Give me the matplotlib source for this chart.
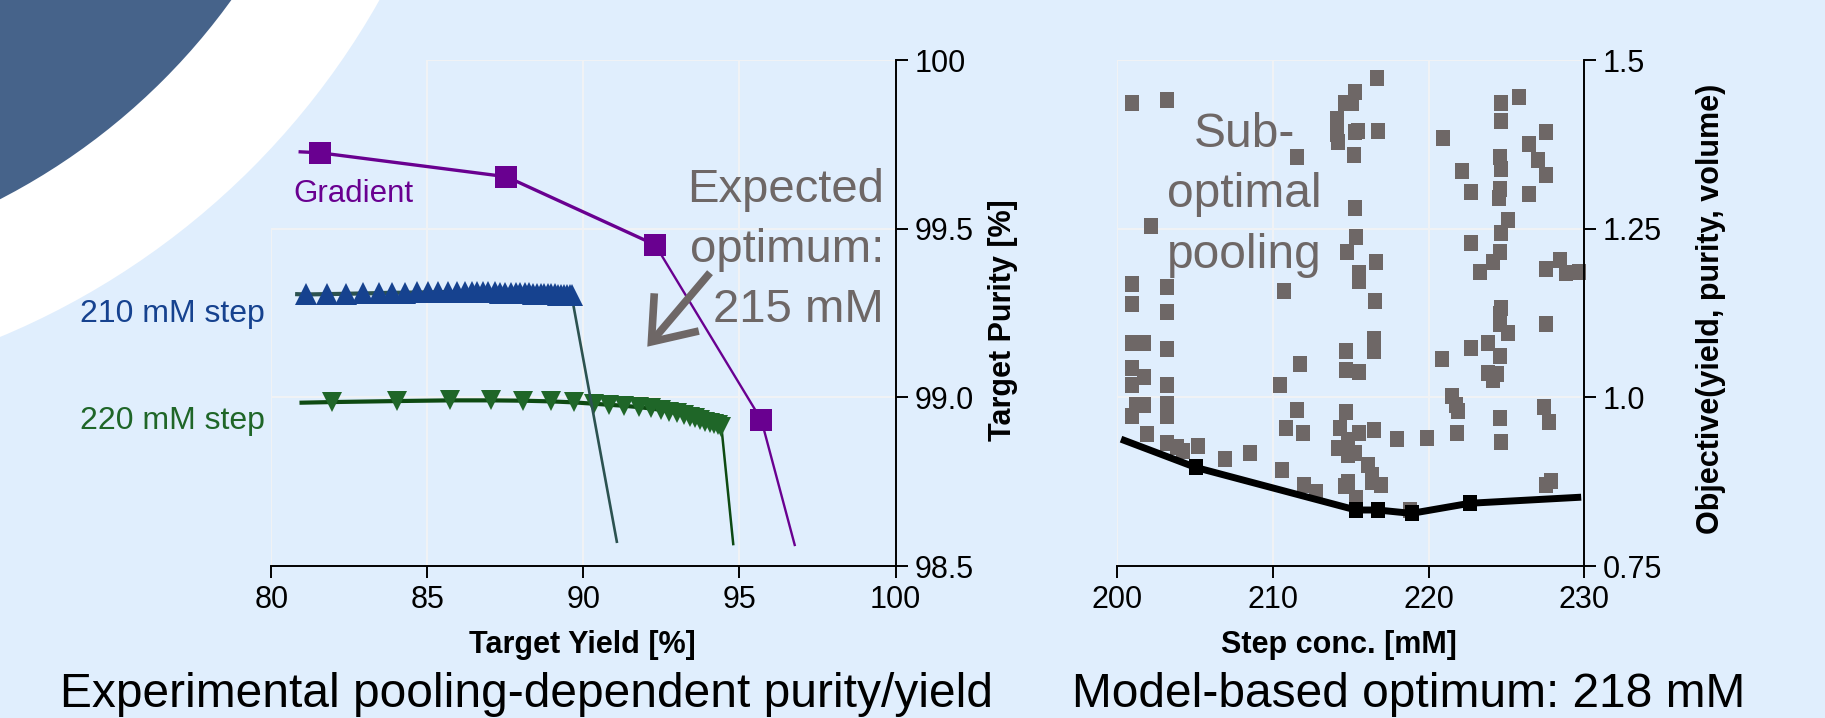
import matplotlib
matplotlib.use("Agg")
import matplotlib.pyplot as plt
from matplotlib.patches import Circle, FancyArrowPatch, ArrowStyle

plt.rcParams['font.family'] = ['Liberation Sans', 'DejaVu Sans']

W, H, DPI = 1825, 718, 100

# ---------------- data: left panel (purity vs yield) ----------------
yield_ticks = [80, 85, 90, 95, 100]
yield_ticklabels = ['80', '85', '90', '95', '100']
purity_ticks = [98.5, 99.0, 99.5, 100.0]
purity_ticklabels = ['98.5', '99.0', '99.5', '100']

gradient_x = [81.55, 87.53, 92.30, 95.70]
gradient_y = [99.725, 99.654, 99.452, 98.933]
gradient_start = (80.87, 99.728)
gradient_end = (96.78, 98.559)

step210_x = [81.12, 81.79, 82.40, 82.95, 83.45, 83.88, 84.28, 84.65, 85.01, 85.34,
             85.65, 85.94, 86.20, 86.43, 86.59, 86.77, 86.95, 87.15, 87.34, 87.50,
             87.68, 87.84, 87.98, 88.12, 88.25, 88.39, 88.52, 88.64, 88.75, 88.87,
             88.97, 89.08, 89.18, 89.29, 89.38, 89.48, 89.56, 89.62]
step210_y = [99.305, 99.306, 99.307, 99.308, 99.309, 99.310, 99.310, 99.311, 99.311, 99.312,
             99.312, 99.312, 99.312, 99.312, 99.312, 99.311, 99.311, 99.311, 99.310, 99.310,
             99.310, 99.309, 99.309, 99.308, 99.308, 99.307, 99.307, 99.306, 99.306, 99.305,
             99.305, 99.305, 99.304, 99.304, 99.303, 99.303, 99.302, 99.302]
step210_start = (80.76, 99.306)
step210_end = (91.07, 98.572)

step220_x = [81.95, 84.04, 85.71, 87.03, 88.07, 88.96, 89.69, 90.34, 90.81, 91.29,
             91.77, 92.15, 92.47, 92.73, 93.00, 93.21, 93.41, 93.59, 93.75, 93.91,
             94.05, 94.18, 94.31, 94.42]
step220_y = [98.986, 98.989, 98.991, 98.991, 98.990, 98.988, 98.985, 98.981, 98.978, 98.975,
             98.971, 98.967, 98.963, 98.958, 98.953, 98.948, 98.943, 98.938, 98.933, 98.928,
             98.923, 98.920, 98.917, 98.913]
step220_start = (80.90, 98.984)
step220_end = (94.80, 98.565)

# ---------------- data: right panel (objective vs step conc.) ----------------
conc_ticks = [200, 210, 220, 230]
conc_ticklabels = ['200', '210', '220', '230']
obj_ticks = [0.75, 1.0, 1.25, 1.5]
obj_ticklabels = ['0.75', '1.0', '1.25', '1.5']

sim_conc = [200.95, 203.19, 211.57, 202.17, 200.95, 203.19, 210.69, 200.95, 203.19, 214.60,
            214.10, 214.10, 214.20, 216.68, 215.29, 215.06, 215.48, 215.30, 216.74, 215.20,
            215.27, 215.33, 214.73, 216.62, 215.53, 215.53, 216.55, 220.90, 224.64, 224.64,
            225.80, 227.53, 226.44, 227.02, 227.53, 222.14, 224.60, 224.64, 222.72, 224.58,
            224.52, 226.44, 225.09, 224.64, 222.72, 224.58, 224.13, 223.30, 227.53, 228.43,
            228.80, 229.64, 224.64, 200.94, 201.71, 203.17, 200.94, 201.71, 200.94, 203.17,
            201.71, 201.20, 200.94, 203.17, 203.17, 201.93, 203.17, 203.81, 204.20, 205.16,
            206.90, 208.53, 210.45, 211.74, 211.55, 210.84, 211.96, 210.58, 212.00, 212.76,
            214.70, 214.70, 214.70, 214.30, 214.20, 214.63, 216.50, 216.50, 215.50, 220.84,
            222.72, 223.84, 224.58, 224.58, 225.07, 224.58, 223.84, 224.37, 224.11, 227.53,
            221.47, 221.75, 221.86, 221.82, 224.58, 224.64, 227.41, 227.71, 227.84, 227.53,
            217.95, 219.87, 216.50, 215.50, 214.85, 215.27, 214.85, 216.08, 216.34, 216.94,
            216.34, 214.85, 215.33, 218.80]
sim_obj = [1.436, 1.440, 1.356, 1.254, 1.168, 1.164, 1.157, 1.139, 1.126, 1.437,
           1.413, 1.390, 1.379, 1.473, 1.452, 1.436, 1.395, 1.394, 1.395, 1.359,
           1.281, 1.237, 1.216, 1.200, 1.185, 1.172, 1.143, 1.385, 1.436, 1.410,
           1.445, 1.393, 1.376, 1.352, 1.329, 1.336, 1.356, 1.338, 1.305, 1.309,
           1.295, 1.302, 1.263, 1.244, 1.229, 1.216, 1.201, 1.186, 1.190, 1.203,
           1.185, 1.186, 1.133, 1.081, 1.081, 1.072, 1.044, 1.030, 1.019, 1.019,
           0.989, 0.989, 0.972, 0.990, 0.972, 0.946, 0.932, 0.926, 0.921, 0.928,
           0.908, 0.918, 1.019, 1.050, 0.981, 0.955, 0.947, 0.892, 0.870, 0.859,
           1.068, 1.040, 0.979, 0.955, 0.925, 0.868, 1.086, 1.068, 1.038, 1.057,
           1.073, 1.081, 1.123, 1.108, 1.096, 1.061, 1.036, 1.034, 1.025, 1.109,
           1.002, 0.989, 0.980, 0.947, 0.969, 0.934, 0.985, 0.964, 0.876, 0.870,
           0.938, 0.940, 0.952, 0.947, 0.937, 0.917, 0.915, 0.900, 0.885, 0.870,
           0.875, 0.875, 0.851, 0.833]

model_x = [205.05, 215.33, 216.72, 218.90, 222.65]
model_y = [0.896, 0.833, 0.833, 0.828, 0.843]
model_start = (200.24, 0.938)
model_end = (229.80, 0.852)

# ---------------- style ----------------
BG = '#E0EEFD'
DARK = '#46638A'
GRID = '#F0F2F5'
C_GRAD = '#690090'
C_210 = '#16428F'
C_210_LINE = '#2C5250'
C_220 = '#1F6628'
C_220_LINE = '#0E4A12'
C_GRAY = '#6E6766'
RECT = [(-0.42, -0.5), (0.42, -0.5), (0.42, 0.5), (-0.42, 0.5), (-0.42, -0.5)]

fig = plt.figure(figsize=(W / DPI, H / DPI), dpi=DPI, facecolor=BG)

# background decoration (pixel coordinates)
bg = fig.add_axes([0, 0, 1, 1], zorder=-10)
bg.set_xlim(0, W)
bg.set_ylim(H, 0)
bg.axis('off')
bg.add_patch(Circle((-300, -383), 780, color='white', lw=0))
bg.add_patch(Circle((-300, -383), 655, color=DARK, lw=0))


def style_axes(ax):
    ax.patch.set_alpha(0)
    for s in ('top', 'left'):
        ax.spines[s].set_visible(False)
    for s in ('right', 'bottom'):
        ax.spines[s].set_linewidth(1.4)
        ax.spines[s].set_color('black')
    ax.yaxis.tick_right()
    ax.tick_params(direction='out', length=8.5, width=1.4, labelsize=22, pad=5,
                   colors='black')


# ---------------- left panel ----------------
axL = fig.add_axes([271.4 / W, 1 - 566 / H, (895.5 - 271.4) / W, 506 / H])
style_axes(axL)
axL.set_xlim(yield_ticks[0], yield_ticks[-1])
axL.set_ylim(purity_ticks[0], purity_ticks[-1])
axL.set_xticks(yield_ticks)
axL.set_xticklabels(yield_ticklabels)
axL.set_yticks(purity_ticks)
axL.set_yticklabels(purity_ticklabels)

# grid (the top-left cell of the original has no grid lines)
for xv in yield_ticks[:-1]:
    y0 = purity_ticks[0]
    y1 = purity_ticks[2] if xv == yield_ticks[0] else purity_ticks[-1]
    axL.plot([xv, xv], [y0, y1], color=GRID, lw=1.5, zorder=0.5)
for yv in purity_ticks[1:]:
    x0 = yield_ticks[1] if yv == purity_ticks[-1] else yield_ticks[0]
    axL.plot([x0, yield_ticks[-1]], [yv, yv], color=GRID, lw=1.5, zorder=0.5)

# gradient
axL.plot([gradient_start[0]] + gradient_x[:3], [gradient_start[1]] + gradient_y[:3],
         color=C_GRAD, lw=2.4, zorder=3, solid_capstyle='butt')
axL.plot(gradient_x[2:] + [gradient_end[0]], gradient_y[2:] + [gradient_end[1]],
         color=C_GRAD, lw=1.7, zorder=3, solid_capstyle='butt')
axL.plot(gradient_x, gradient_y, ls='none', marker='s', ms=16, mew=0,
         color=C_GRAD, zorder=3.5)

# 220 mM step
axL.plot([step220_start[0]] + step220_x, [step220_start[1]] + step220_y,
         color=C_220_LINE, lw=3.0, zorder=3, solid_capstyle='butt')
axL.plot([step220_x[-1], step220_end[0]], [step220_y[-1], step220_end[1]],
         color=C_220_LINE, lw=1.8, zorder=3)
axL.plot(step220_x, step220_y, ls='none', marker='v', ms=15, mew=0,
         color=C_220, zorder=3.2)

# 210 mM step
axL.plot([step210_start[0]] + step210_x, [step210_start[1]] + step210_y,
         color=C_210_LINE, lw=3.0, zorder=3.4, solid_capstyle='butt')
axL.plot([step210_x[-1], step210_end[0]], [step210_y[-1], step210_end[1]],
         color=C_210_LINE, lw=1.9, zorder=3.4)
axL.plot(step210_x, step210_y, ls='none', marker='^', ms=15.5, mew=0,
         color=C_210, zorder=3.45)

# ---------------- right panel ----------------
axR = fig.add_axes([1117.3 / W, 1 - 566 / H, (1584.3 - 1117.3) / W, 506 / H])
style_axes(axR)
axR.set_xlim(conc_ticks[0], conc_ticks[-1])
axR.set_ylim(obj_ticks[0], obj_ticks[-1])
axR.set_xticks(conc_ticks)
axR.set_xticklabels(conc_ticklabels)
axR.set_yticks(obj_ticks)
axR.set_yticklabels(obj_ticklabels)
axR.grid(True, color=GRID, lw=1.5, zorder=0.5)
axR.set_axisbelow(True)

axR.plot(sim_conc, sim_obj, ls='none', marker=RECT, ms=12, mew=0,
         color=C_GRAY, zorder=2, clip_on=False)
axR.plot([model_start[0]] + model_x + [model_end[0]],
         [model_start[1]] + model_y + [model_end[1]],
         color='black', lw=5, zorder=3, solid_capstyle='butt')
axR.plot(model_x, model_y, ls='none', marker=RECT, ms=12, mew=0,
         color='black', zorder=3.5)

# ---------------- overlay: texts and arrow (pixel coordinates) ----------------
ov = fig.add_axes([0, 0, 1, 1], zorder=10)
ov.set_xlim(0, W)
ov.set_ylim(H, 0)
ov.axis('off')

ov.text(293, 202, 'Gradient', color=C_GRAD, fontsize=22.5, ha='left', va='baseline')
ov.text(80, 322, '210 mM step', color=C_210, fontsize=23, ha='left', va='baseline')
ov.text(80, 429, '220 mM step', color=C_220, fontsize=23, ha='left', va='baseline')

for txt, yb in zip(['Expected', 'optimum:', '215 mM'], [201.7, 262.5, 321.7]):
    ov.text(884, yb, txt, color=C_GRAY, fontsize=34, ha='right', va='baseline')
for txt, yb in zip(['Sub-', 'optimal', 'pooling'], [146.7, 206.7, 268.0]):
    ov.text(1244, yb, txt, color=C_GRAY, fontsize=34.5, ha='center', va='baseline')

ov.add_patch(FancyArrowPatch((710, 272.7), (647.3, 346.7),
                             arrowstyle=ArrowStyle('->', head_length=28, head_width=21),
                             mutation_scale=1, lw=5.5, color=C_GRAY,
                             shrinkA=0, shrinkB=0, joinstyle='miter', capstyle='butt'))

ov.text(582, 653, 'Target Yield [%]', fontsize=22, fontweight='bold',
        ha='center', va='baseline')
ov.text(1339, 653, 'Step conc. [mM]', fontsize=22, fontweight='bold',
        ha='center', va='baseline')
ov.text(1003, 320, 'Target Purity [%]', fontsize=22, fontweight='bold',
        rotation=90, ha='center', va='center')
ov.text(1711, 309, 'Objective(yield, purity, volume)', fontsize=22, fontweight='bold',
        rotation=90, ha='center', va='center')

ov.text(60, 707, 'Experimental pooling-dependent purity/yield', fontsize=34.5,
        ha='left', va='baseline')
ov.text(1072, 707, 'Model-based optimum: 218 mM', fontsize=34.5,
        ha='left', va='baseline')

fig.savefig('out.png', dpi=DPI, facecolor=fig.get_facecolor())
